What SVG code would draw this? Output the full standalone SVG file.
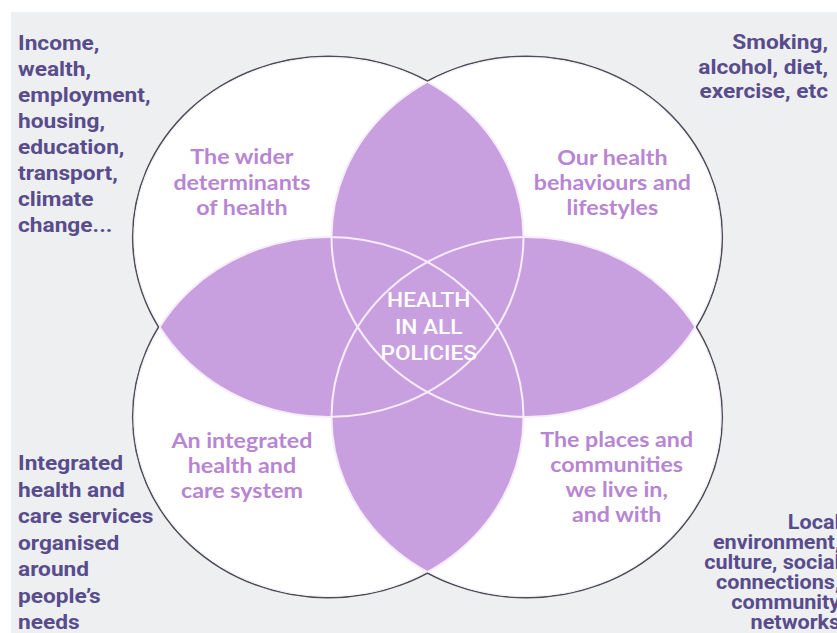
<svg xmlns="http://www.w3.org/2000/svg" width="837" height="633" viewBox="0 0 837 633">
<style>
.outline{fill:none;stroke:#4d4d55;stroke-width:3.2}
.fillw{fill:#ffffff}
.petal{fill:#c9a0df}
.inner{fill:none;stroke:#f6ecfb;stroke-width:2}
.out{font-family:Roboto,"Liberation Sans",sans-serif;font-weight:700;font-size:21px;fill:#584c8c}
.lab{font-family:Lato,"Open Sans",sans-serif;font-weight:700;font-size:21.5px;fill:#b785d2;text-anchor:middle}
.ctr{font-family:Roboto,"Liberation Sans",sans-serif;font-weight:500;font-size:21px;fill:#ffffff;text-anchor:middle}
.loc{font-size:20px;text-anchor:end}
</style>
<defs>
<ellipse id="eTL" cx="328.5" cy="237" rx="195" ry="180"/>
<ellipse id="eTR" cx="526.5" cy="237" rx="195" ry="180"/>
<ellipse id="eBL" cx="328.5" cy="417" rx="195" ry="180"/>
<ellipse id="eBR" cx="526.5" cy="417" rx="195" ry="180"/>
<clipPath id="cTR"><use href="#eTR"/></clipPath>
<clipPath id="cBL"><use href="#eBL"/></clipPath>
<clipPath id="cBR"><use href="#eBR"/></clipPath>
<clipPath id="cAll"><use href="#eTL"/><use href="#eTR"/><use href="#eBL"/><use href="#eBR"/></clipPath>
</defs>
<rect x="0" y="0" width="837" height="633" fill="#ffffff"/>
<rect x="11" y="12" width="826" height="621" fill="#eeeff1"/>
<g id="venn">
<use href="#eTL" class="outline"/><use href="#eTR" class="outline"/><use href="#eBL" class="outline"/><use href="#eBR" class="outline"/>
<use href="#eTL" class="fillw"/><use href="#eTR" class="fillw"/><use href="#eBL" class="fillw"/><use href="#eBR" class="fillw"/>
<use href="#eTL" class="petal" clip-path="url(#cTR)"/>
<use href="#eTL" class="petal" clip-path="url(#cBL)"/>
<use href="#eTL" class="petal" clip-path="url(#cBR)"/>
<use href="#eBR" class="petal" clip-path="url(#cTR)"/>
<use href="#eBR" class="petal" clip-path="url(#cBL)"/>
<use href="#eTR" class="petal" clip-path="url(#cBL)"/>
<g clip-path="url(#cAll)">
<use href="#eTL" class="inner"/><use href="#eTR" class="inner"/><use href="#eBL" class="inner"/><use href="#eBR" class="inner"/>
</g>
</g>
<g transform="scale(1.08,1)">
<g id="node-wider">
<text class="lab" x="224" y="164">The wider</text>
<text class="lab" x="224" y="190">determinants</text>
<text class="lab" x="224" y="215">of health</text>
</g>
<g id="node-behaviours">
<text class="lab" x="567" y="165">Our health</text>
<text class="lab" x="567" y="190">behaviours and</text>
<text class="lab" x="567" y="215">lifestyles</text>
</g>
<g id="node-integrated">
<text class="lab" x="224" y="448">An integrated</text>
<text class="lab" x="224" y="473">health and</text>
<text class="lab" x="224" y="498">care system</text>
</g>
<g id="node-places">
<text class="lab" x="571" y="447">The places and</text>
<text class="lab" x="571" y="472">communities</text>
<text class="lab" x="571" y="497">we live in,</text>
<text class="lab" x="571" y="522">and with</text>
</g>
<g id="node-centre">
<text class="ctr" x="397" y="307">HEALTH</text>
<text class="ctr" x="397" y="334">IN ALL</text>
<text class="ctr" x="397" y="360">POLICIES</text>
</g>
<g id="note-income">
<text class="out" x="16.7" y="50">Income,</text>
<text class="out" x="16.7" y="76">wealth,</text>
<text class="out" x="16.7" y="102">employment,</text>
<text class="out" x="16.7" y="128">housing,</text>
<text class="out" x="16.7" y="154">education,</text>
<text class="out" x="16.7" y="180">transport,</text>
<text class="out" x="16.7" y="206">climate</text>
<text class="out" x="16.7" y="232">change...</text>
</g>
<g id="note-smoking">
<text class="out" x="766.7" y="49" text-anchor="end">Smoking,</text>
<text class="out" x="766.7" y="74" text-anchor="end">alcohol, diet,</text>
<text class="out" x="766.7" y="98" text-anchor="end">exercise, etc</text>
</g>
<g id="note-integrated">
<text class="out" x="16.7" y="470">Integrated</text>
<text class="out" x="16.7" y="497">health and</text>
<text class="out" x="16.7" y="523">care services</text>
<text class="out" x="16.7" y="550">organised</text>
<text class="out" x="16.7" y="576">around</text>
<text class="out" x="16.7" y="603">people’s</text>
<text class="out" x="16.7" y="629">needs</text>
</g>
<g id="note-local">
<text class="out loc" x="778" y="529">Local</text>
<text class="out loc" x="778" y="549">environment,</text>
<text class="out loc" x="778" y="569">culture, social</text>
<text class="out loc" x="778" y="589">connections,</text>
<text class="out loc" x="778" y="609">community</text>
<text class="out loc" x="778" y="629">networks</text>
</g>
</g>
</svg>
